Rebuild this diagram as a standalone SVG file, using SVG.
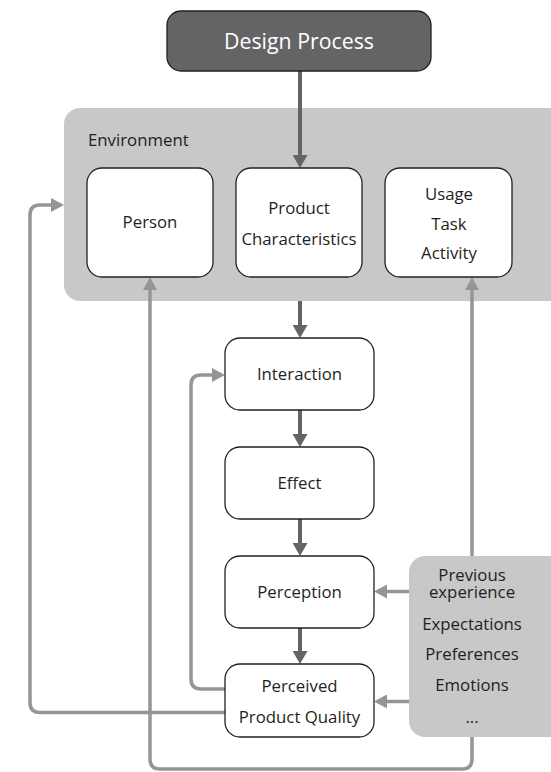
<svg xmlns="http://www.w3.org/2000/svg" width="551" height="772" viewBox="0 0 551 772">
<style>
.t{font-family:"Open Sans","Noto Sans",sans-serif;font-size:16.8px;fill:#231f20;text-anchor:middle}
.node{fill:#fff;stroke:#231f20;stroke-width:1.3}
.panel{fill:#c8c8c8}
.dk{fill:none;stroke:#636466;stroke-width:4}
.lt{fill:none;stroke:#939598;stroke-width:3.5}
</style>
<defs>
<marker id="ad" viewBox="0 -7.5 13 15" refX="0" refY="0" markerWidth="13" markerHeight="15" markerUnits="userSpaceOnUse" orient="auto"><path d="M0,-7.5L13,0L0,7.5z" fill="#636466"/></marker>
<marker id="al" viewBox="0 -7 13 14" refX="0" refY="0" markerWidth="13" markerHeight="14" markerUnits="userSpaceOnUse" orient="auto"><path d="M0,-7L13,0L0,7z" fill="#939598"/></marker>
</defs>
<g id="environment">
<rect class="panel" x="64" y="108" width="510" height="193" rx="16"/>
<text class="t" x="88" y="146" style="text-anchor:start">Environment</text>
</g>
<g id="factors">
<rect class="panel" x="409" y="556" width="170" height="181" rx="16"/>
<text class="t"><tspan x="472" y="581">Previous</tspan><tspan x="472" y="597.5">experience</tspan></text>
<text class="t" x="472" y="629.5">Expectations</text>
<text class="t" x="472" y="659.5">Preferences</text>
<text class="t" x="472" y="691">Emotions</text>
<text class="t" x="472" y="723">...</text>
</g>
<g id="connectors">
<path class="lt" d="M225 689H201Q191 689 191 679V385Q191 375 201 375H212" marker-end="url(#al)"/>
<path class="lt" d="M225 712.5H40Q30 712.5 30 702.5V215Q30 205 40 205H51" marker-end="url(#al)"/>
<path class="lt" d="M472 737V759Q472 769 462 769H160Q150 769 150 759V290" marker-end="url(#al)"/>
<path class="lt" d="M472 556V290" marker-end="url(#al)"/>
<path class="lt" d="M409 591.5H387" marker-end="url(#al)"/>
<path class="lt" d="M409 701.5H387" marker-end="url(#al)"/>
<path class="dk" d="M300 71V155" marker-end="url(#ad)"/>
<path class="dk" d="M300 301V325" marker-end="url(#ad)"/>
<path class="dk" d="M300 410V434" marker-end="url(#ad)"/>
<path class="dk" d="M300 519V543" marker-end="url(#ad)"/>
<path class="dk" d="M300 628V651" marker-end="url(#ad)"/>
</g>
<g id="design-process">
<rect x="167" y="11" width="264" height="60" rx="14" fill="#636466" stroke="#231f20" stroke-width="1.3"/>
<text class="t" x="299" y="49" style="font-size:21.3px;fill:#fff">Design Process</text>
</g>
<g id="person">
<rect class="node" x="87" y="168" width="126" height="109" rx="15"/>
<text class="t" x="150" y="228">Person</text>
</g>
<g id="product-characteristics">
<rect class="node" x="236" y="168" width="126" height="109" rx="15"/>
<text class="t" x="299" y="213.5">Product</text>
<text class="t" x="299" y="245">Characteristics</text>
</g>
<g id="usage">
<rect class="node" x="385" y="168" width="127" height="109" rx="15"/>
<text class="t" x="449" y="200">Usage</text>
<text class="t" x="449" y="230">Task</text>
<text class="t" x="449" y="259">Activity</text>
</g>
<g id="interaction">
<rect class="node" x="225" y="338" width="149" height="72" rx="15"/>
<text class="t" x="299.5" y="380">Interaction</text>
</g>
<g id="effect">
<rect class="node" x="225" y="447" width="149" height="72" rx="15"/>
<text class="t" x="299.5" y="489">Effect</text>
</g>
<g id="perception">
<rect class="node" x="225" y="556" width="149" height="72" rx="15"/>
<text class="t" x="299.5" y="597.5">Perception</text>
</g>
<g id="perceived-product-quality">
<rect class="node" x="225" y="664" width="149" height="73" rx="15"/>
<text class="t" x="299.5" y="692">Perceived</text>
<text class="t" x="299.5" y="723">Product Quality</text>
</g>
</svg>
